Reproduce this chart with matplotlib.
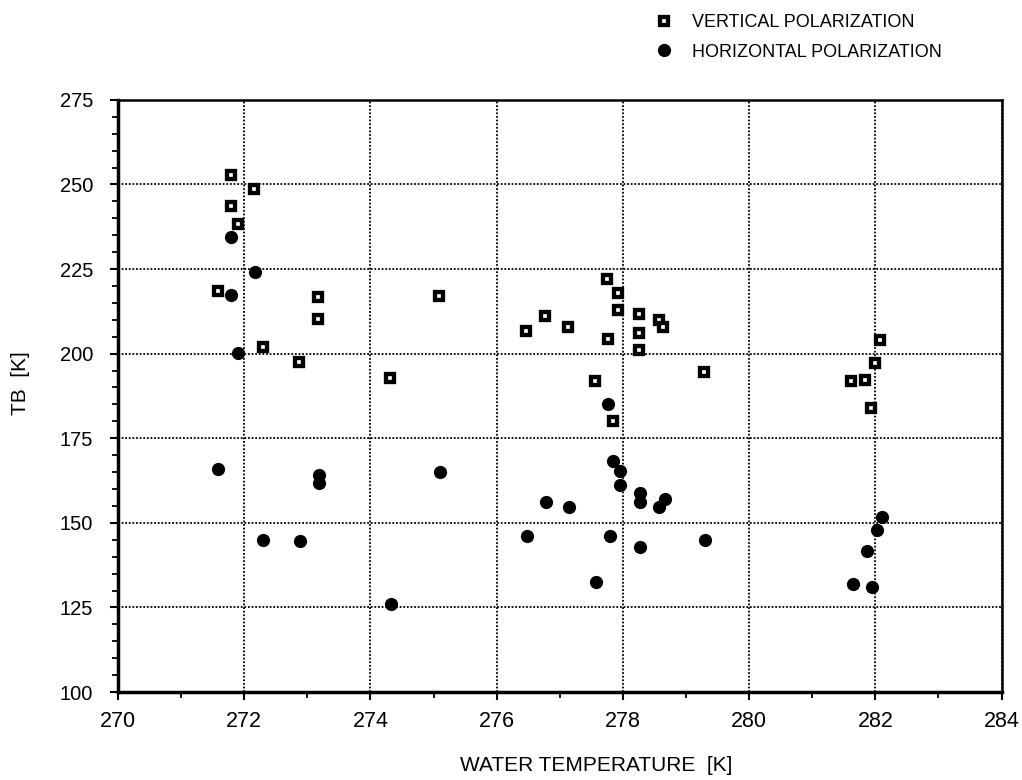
import matplotlib
matplotlib.use('Agg')
import matplotlib.pyplot as plt
from matplotlib.ticker import MultipleLocator

plt.rcParams['font.family'] = ['Liberation Sans', 'DejaVu Sans']

# vertical polarization (open squares)
vert_temp = [271.79, 272.16, 271.79, 271.90, 271.58, 272.29, 272.87,
             273.17, 273.17, 274.31, 275.08,
             277.74, 277.92, 277.92, 276.76, 276.46, 277.13, 278.25, 278.26,
             278.26, 278.57, 278.64, 277.76, 279.28, 277.56, 277.84,
             282.08, 282.00, 281.62, 281.83, 281.93]
vert_tb = [252.8, 248.6, 243.5, 238.2, 218.5, 202.1, 197.6,
           216.6, 210.2, 192.9, 216.9,
           222.0, 218.0, 212.9, 211.2, 206.8, 208.0, 211.7, 206.2,
           201.1, 210.0, 208.0, 204.2, 194.7, 192.0, 180.1,
           204.0, 197.2, 191.9, 192.1, 183.9]

# horizontal polarization (filled dots)
hor_temp = [271.79, 272.17, 271.79, 271.90, 271.59, 272.29, 272.88,
            273.18, 273.18, 275.10, 274.32,
            277.76, 277.84, 277.95, 277.95, 276.78, 277.14, 278.27, 278.27,
            278.66, 278.57, 276.48, 277.79, 278.27, 279.30, 277.58,
            282.11, 282.02, 281.86, 281.65, 281.95]
hor_tb = [234.4, 224.2, 217.3, 200.1, 165.9, 144.9, 144.5,
          164.1, 161.7, 165.0, 126.0,
          185.1, 168.2, 165.4, 161.2, 156.3, 154.8, 158.9, 156.2,
          157.0, 154.8, 146.1, 146.1, 143.0, 144.9, 132.6,
          151.6, 147.9, 141.8, 131.9, 130.9]

fig = plt.figure(figsize=(10.22, 7.8), dpi=100)
ax = fig.add_axes([0.1155, 0.1128, 0.8645, 0.7592])

ax.plot(vert_temp, vert_tb, linestyle='none', marker='s', markersize=5.6,
        markerfacecolor='white', markeredgecolor='black', markeredgewidth=3.1,
        label='VERTICAL POLARIZATION', zorder=3)
ax.plot(hor_temp, hor_tb, linestyle='none', marker='o', markersize=8.5,
        color='black', label='HORIZONTAL POLARIZATION', zorder=3)

ax.set_xlim(270, 284)
ax.set_ylim(100, 275)
ax.xaxis.set_major_locator(MultipleLocator(2))
ax.xaxis.set_minor_locator(MultipleLocator(1))
ax.yaxis.set_major_locator(MultipleLocator(25))
ax.yaxis.set_minor_locator(MultipleLocator(5))

ax.grid(True, which='major', color='black', linestyle=(0, (1, 1)), linewidth=1.3)
ax.tick_params(axis='both', which='major', direction='out', length=6, width=1.5)
ax.tick_params(axis='x', which='major', labelsize=15.5, pad=8)
ax.tick_params(axis='y', which='major', labelsize=14.5, pad=12)
ax.tick_params(axis='both', which='minor', direction='out', length=4, width=1.3)

for side in ['left', 'bottom']:
    ax.spines[side].set_linewidth(2.5)
for side in ['top', 'right']:
    ax.spines[side].set_linewidth(1.8)

ax.set_xlabel('WATER TEMPERATURE  [K]', fontsize=15)
ax.xaxis.set_label_coords(0.541, -0.108)
ax.set_ylabel('TB  [K]', fontsize=15)
ax.yaxis.set_label_coords(-0.1, 0.522)

fig.legend(loc='upper left', bbox_to_anchor=(650 / 1022, 1 - 14 / 780),
           frameon=False, fontsize=13, handlelength=1.6, handletextpad=0.7,
           labelspacing=0.7, borderpad=0, borderaxespad=0)

fig.savefig('out.png', dpi=100)
